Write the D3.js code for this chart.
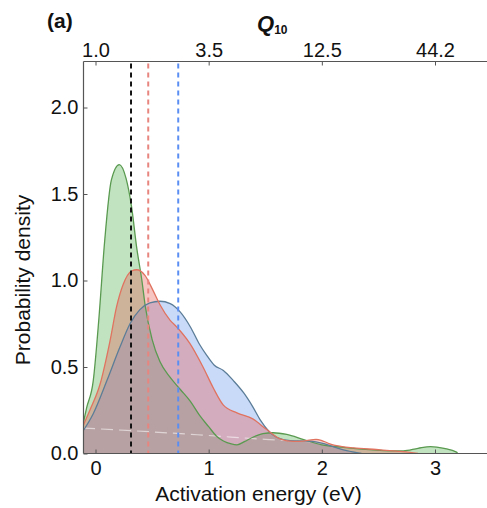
<!DOCTYPE html>
<html>
<head>
<meta charset="utf-8">
<script src="https://cdn.jsdelivr.net/npm/d3@7"></script>
<style>
  html, body { margin: 0; padding: 0; background: #fff; }
  svg { display: block; font-family: "Liberation Sans", Arial, sans-serif; }
</style>
</head>
<body>
<svg id="chart" width="487" height="508"></svg>
<script>
// ---------- data ----------
const bottomTicks = [0, 1, 2, 3];
const topTickLabels = ["1.0", "3.5", "12.5", "44.2"];
const yTicks = [0, 0.5, 1.0, 1.5, 2.0];

const greenE = [-0.11, -0.08, -0.02, 0.03, 0.08, 0.14, 0.21, 0.27, 0.32, 0.364, 0.41, 0.44, 0.50, 0.57, 0.66, 0.75, 0.84, 0.92, 1.0, 1.07, 1.13, 1.2, 1.25, 1.32, 1.39, 1.48, 1.57, 1.69, 1.84, 2.0, 2.19, 2.48, 2.72, 2.85, 2.96, 3.08, 3.19, 3.2];
const greenD = [0.17, 0.26, 0.42, 0.78, 1.22, 1.58, 1.67, 1.59, 1.42, 1.19, 1.0, 0.85, 0.66, 0.53, 0.44, 0.37, 0.30, 0.22, 0.155, 0.10, 0.072, 0.055, 0.05, 0.07, 0.094, 0.115, 0.12, 0.11, 0.08, 0.05, 0.036, 0.02, 0.015, 0.03, 0.04, 0.03, 0.008, 0];

const blueE = [-0.11, -0.02, 0.1, 0.216, 0.305, 0.39, 0.48, 0.57, 0.66, 0.746, 0.84, 0.92, 0.98, 1.05, 1.13, 1.22, 1.31, 1.39, 1.46, 1.53, 1.6, 1.72, 1.9, 2.0, 2.07, 2.22, 2.35];
const blueD = [0.13, 0.23, 0.42, 0.615, 0.75, 0.83, 0.87, 0.88, 0.866, 0.82, 0.73, 0.63, 0.57, 0.51, 0.48, 0.42, 0.35, 0.27, 0.19, 0.13, 0.094, 0.075, 0.071, 0.06, 0.046, 0.017, 0];

const redE = [-0.11, -0.05, 0.04, 0.128, 0.187, 0.246, 0.32, 0.364, 0.437, 0.51, 0.57, 0.66, 0.72, 0.835, 0.95, 1.04, 1.13, 1.25, 1.39, 1.51, 1.63, 1.75, 1.84, 1.95, 2.0, 2.07, 2.18, 2.28, 2.48, 2.66, 2.78, 2.85];
const redD = [0.16, 0.25, 0.40, 0.65, 0.85, 0.98, 1.055, 1.062, 1.03, 0.94, 0.86, 0.77, 0.73, 0.635, 0.50, 0.38, 0.28, 0.235, 0.20, 0.14, 0.085, 0.07, 0.072, 0.082, 0.075, 0.056, 0.04, 0.033, 0.023, 0.014, 0.007, 0];

const priorE = [-0.11, 0.5, 1.0, 1.5, 2.0, 2.5, 3.0, 3.46];
const priorD = [0.147, 0.125, 0.104, 0.082, 0.065, 0.05, 0.04, 0.03];

const meanNames = ["green", "red", "blue"];
const meanE = [0.314, 0.466, 0.731];

// ---------- layout ----------
const W = 487, H = 508;
const plotLeft = 83.5, plotRight = 487, plotTop = 61.5, plotBottom = 453.5;

const x = d3.scaleLinear().domain([0, 3]).range([95.5, 435]);
const y = d3.scaleLinear().domain([0, 2]).range([453.5, 107.5]);

const svg = d3.select("#chart");

svg.append("defs").append("clipPath").attr("id", "clip")
  .append("rect")
  .attr("x", plotLeft).attr("y", plotTop)
  .attr("width", plotRight - plotLeft).attr("height", plotBottom - plotTop);

const plot = svg.append("g").attr("clip-path", "url(#clip)");

const series = [
  { E: greenE, D: greenD, fill: "#4daf4a", stroke: "#5a9a50" },
  { E: blueE,  D: blueD,  fill: "#6495ed", stroke: "#5c7d98" },
  { E: redE,   D: redD,   fill: "#e45a50", stroke: "#e07360" }
];

const area = d3.area().curve(d3.curveMonotoneX)
  .x(d => x(d[0])).y0(y(0)).y1(d => y(d[1]));
const line = d3.line().curve(d3.curveMonotoneX)
  .x(d => x(d[0])).y(d => y(d[1]));

series.forEach(s => {
  const pts = s.E.map((e, i) => [e, s.D[i]]);
  plot.append("path").datum(pts).attr("d", area)
    .attr("fill", s.fill).attr("fill-opacity", 0.35).attr("stroke", "none");
});

// faint prior line
plot.append("path").datum(priorE.map((e, i) => [e, priorD[i]]))
  .attr("d", line).attr("fill", "none")
  .attr("stroke", "#ffffff").attr("stroke-opacity", 0.55)
  .attr("stroke-width", 1.2).attr("stroke-dasharray", "12,6");

series.forEach(s => {
  const pts = s.E.map((e, i) => [e, s.D[i]]);
  plot.append("path").datum(pts).attr("d", line)
    .attr("fill", "none").attr("stroke", s.stroke).attr("stroke-width", 1.3);
});

// dashed mean lines
const meanColors = { green: "#111111", red: "#e8857e", blue: "#5b8ef2" };
meanE.forEach((e, i) => {
  plot.append("line")
    .attr("x1", x(e)).attr("x2", x(e))
    .attr("y1", plotTop + 2).attr("y2", plotBottom)
    .attr("stroke", meanColors[meanNames[i]])
    .attr("stroke-width", 2).attr("stroke-dasharray", "5,4");
});

// ---------- axes ----------
const axisColor = "#555";
const fontSize = 20;

const gLeft = svg.append("g").attr("transform", `translate(${plotLeft},0)`)
  .call(d3.axisLeft(y).tickValues(yTicks).tickFormat(d3.format(".1f"))
    .tickSizeInner(-4).tickSizeOuter(0).tickPadding(5));
const gBottom = svg.append("g").attr("transform", `translate(0,${plotBottom})`)
  .call(d3.axisBottom(x).tickValues(bottomTicks).tickFormat(d3.format("d"))
    .tickSizeInner(-4).tickSizeOuter(0).tickPadding(7));
const gTop = svg.append("g").attr("transform", `translate(0,${plotTop})`)
  .call(d3.axisTop(x).tickValues(bottomTicks).tickFormat((d, i) => topTickLabels[i])
    .tickSizeInner(-4).tickSizeOuter(0).tickPadding(5));

[gLeft, gBottom, gTop].forEach(g => {
  g.select(".domain").remove();
  g.selectAll(".tick line").attr("stroke", axisColor);
  g.selectAll(".tick text").attr("fill", "#111")
    .style("font-size", fontSize + "px")
    .style("font-family", '"Liberation Sans", Arial, sans-serif');
});

// spines
svg.append("line").attr("x1", plotLeft).attr("x2", plotLeft)
  .attr("y1", plotTop).attr("y2", plotBottom).attr("stroke", axisColor).attr("stroke-width", 1.2);
svg.append("line").attr("x1", plotLeft).attr("x2", plotRight)
  .attr("y1", plotTop).attr("y2", plotTop).attr("stroke", axisColor).attr("stroke-width", 1.2);
svg.append("line").attr("x1", plotLeft).attr("x2", plotRight)
  .attr("y1", plotBottom).attr("y2", plotBottom).attr("stroke", axisColor).attr("stroke-width", 1.2);

// ---------- labels ----------
svg.append("text").attr("x", 258.5).attr("y", 501)
  .attr("text-anchor", "middle").style("font-size", "21px").attr("fill", "#111")
  .text("Activation energy (eV)");

svg.append("text")
  .attr("transform", "translate(30,280) rotate(-90)")
  .attr("text-anchor", "middle").style("font-size", "21px").attr("fill", "#111")
  .text("Probability density");

svg.append("text").attr("x", 47).attr("y", 28)
  .style("font-size", "21px").style("font-weight", "bold").attr("fill", "#111")
  .text("(a)");

const q = svg.append("text").attr("x", 257).attr("y", 31)
  .style("font-size", "22px").attr("fill", "#111");
q.append("tspan").style("font-style", "italic").style("font-weight", "bold").text("Q");
q.append("tspan").attr("dy", 3).style("font-size", "12px").style("font-weight", "bold").text("10");
</script>
</body>
</html>
